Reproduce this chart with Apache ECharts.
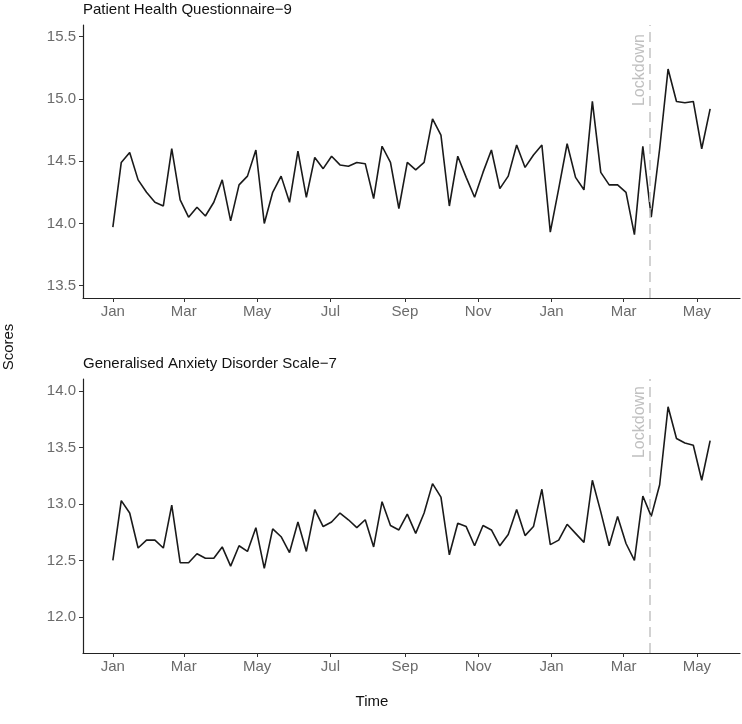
<!DOCTYPE html>
<html><head><meta charset="utf-8">
<script src="https://cdn.jsdelivr.net/npm/echarts@6/dist/echarts.min.js"></script>
<style>html,body{margin:0;padding:0;background:#fff}#c{width:742px;height:724px}</style>
</head><body><div id="c"></div>
<script>
const dates = [
 '2019-01-01','2019-01-08','2019-01-15','2019-01-22','2019-01-29','2019-02-05','2019-02-12','2019-02-19','2019-02-26',
 '2019-03-05','2019-03-12','2019-03-19','2019-03-26','2019-04-02','2019-04-09','2019-04-16','2019-04-23','2019-04-30',
 '2019-05-07','2019-05-14','2019-05-21','2019-05-28','2019-06-04','2019-06-11','2019-06-18','2019-06-25',
 '2019-07-02','2019-07-09','2019-07-16','2019-07-23','2019-07-30','2019-08-06','2019-08-13','2019-08-20','2019-08-27',
 '2019-09-03','2019-09-10','2019-09-17','2019-09-24','2019-10-01','2019-10-08','2019-10-15','2019-10-22','2019-10-29',
 '2019-11-05','2019-11-12','2019-11-19','2019-11-26','2019-12-03','2019-12-10','2019-12-17','2019-12-24','2019-12-31',
 '2020-01-07','2020-01-14','2020-01-21','2020-01-28','2020-02-04','2020-02-11','2020-02-18','2020-02-25',
 '2020-03-03','2020-03-10','2020-03-17','2020-03-24','2020-03-31','2020-04-07','2020-04-14','2020-04-21','2020-04-28',
 '2020-05-05','2020-05-12'
];
const phq9 = [
 13.97,14.49,14.57,14.35,14.25,14.17,14.14,14.60,14.19,14.05,14.13,14.06,14.17,14.35,14.02,14.31,14.38,14.59,
 14.00,14.25,14.38,14.17,14.58,14.21,14.53,14.44,14.54,14.47,14.46,14.49,14.48,14.20,14.62,14.49,14.12,14.49,
 14.43,14.49,14.84,14.71,14.14,14.54,14.37,14.21,14.41,14.59,14.28,14.38,14.63,14.45,14.55,14.63,13.93,14.28,
 14.64,14.37,14.27,14.98,14.41,14.31,14.31,14.25,13.91,14.62,14.05,14.60,15.24,14.98,14.97,14.98,14.60,14.92
];
const gad7 = [
 12.50,13.03,12.92,12.61,12.68,12.68,12.61,12.99,12.48,12.48,12.56,12.52,12.52,12.62,12.45,12.63,12.58,12.79,
 12.43,12.78,12.71,12.57,12.84,12.58,12.95,12.80,12.84,12.92,12.86,12.79,12.86,12.62,13.02,12.81,12.77,12.91,
 12.74,12.92,13.18,13.06,12.55,12.83,12.80,12.63,12.81,12.77,12.63,12.73,12.95,12.72,12.80,13.13,12.64,12.68,
 12.82,12.74,12.66,13.21,12.93,12.63,12.89,12.65,12.50,13.07,12.89,13.17,13.86,13.58,13.54,13.52,13.21,13.56
];
const monthTicks = ['2019-01-01','2019-03-01','2019-05-01','2019-07-01','2019-09-01','2019-11-01','2020-01-01','2020-03-01','2020-05-01'];
const monthLabels = ['Jan','Mar','May','Jul','Sep','Nov','Jan','Mar','May'];
const phqTicks = [13.5, 14.0, 14.5, 15.0, 15.5];
const gadTicks = [12.0, 12.5, 13.0, 13.5, 14.0];
const lockdownDate = '2020-03-23';
const lockdownLabel = 'Lockdown';
const titles = ['Patient Health Questionnaire\u22129', 'Generalised Anxiety Disorder Scale\u22127'];

function ts(s){ const p = s.split('-').map(Number); return Date.UTC(p[0], p[1]-1, p[2]); }
const t0 = ts(dates[0]), t1 = ts(dates[dates.length-1]), pad = (t1 - t0) * 0.05;
const tickTs = monthTicks.map(ts);
const FONT = "'Liberation Sans', Arial, Helvetica, sans-serif";
const tickColor = '#6b6b6b';

function xAxisCfg(gi){
  return {
    type: 'value', gridIndex: gi, min: t0 - pad, max: t1 + pad,
    axisLine: {show: true, lineStyle: {color: '#222', width: 1.2}},
    axisTick: {show: true, length: 4, lineStyle: {color: '#333', width: 1}, customValues: tickTs},
    axisLabel: {
      color: tickColor, fontSize: 15, fontFamily: FONT, margin: 6,
      customValues: tickTs, showMinLabel: true, showMaxLabel: true,
      formatter: function(v){ const i = tickTs.indexOf(v); return i >= 0 ? monthLabels[i] : ''; }
    },
    splitLine: {show: false}
  };
}
function yAxisCfg(gi, mn, mx, ticks){
  return {
    type: 'value', gridIndex: gi, min: mn, max: mx,
    axisLine: {show: true, lineStyle: {color: '#222', width: 1.2}},
    axisTick: {show: true, length: 4, lineStyle: {color: '#333', width: 1}, customValues: ticks},
    axisLabel: {color: tickColor, fontSize: 15, fontFamily: FONT, margin: 7, customValues: ticks,
      formatter: function(v){ return Number(v).toFixed(1); }},
    splitLine: {show: false}
  };
}
function lineSeries(gi, vals, topPad){
  return {
    type: 'line', xAxisIndex: gi, yAxisIndex: gi, showSymbol: false, symbol: 'none',
    data: dates.map(function(d, i){ return [ts(d), vals[i]]; }),
    lineStyle: {color: '#1a1a1a', width: 1.6}, silent: true, animation: false,
    markLine: {
      silent: true, symbol: ['none','none'], animation: false,
      lineStyle: {color: '#c4c4c4', type: [10, 6], width: 1.5},
      label: {show: true, formatter: lockdownLabel, position: 'insideEndTop', color: '#c0c0c0', fontSize: 16, fontFamily: FONT,
        distance: 2, padding: [0, topPad, 0, 0]},
      data: [{xAxis: ts(lockdownDate)}]
    }
  };
}

const chart = echarts.init(document.getElementById('c'), null, {renderer: 'canvas'});
chart.setOption({
  backgroundColor: '#fff',
  animation: false,
  title: [
    {text: titles[0], left: 78, top: -3, textStyle: {fontSize: 15, fontWeight: 'normal', color: '#111', fontFamily: FONT}},
    {text: titles[1], left: 78, top: 351, textStyle: {fontSize: 15, fontWeight: 'normal', color: '#111', fontFamily: FONT}}
  ],
  grid: [
    {left: 83, right: 2, top: 25, height: 273},
    {left: 83, right: 2, top: 379, height: 274}
  ],
  xAxis: [xAxisCfg(0), xAxisCfg(1)],
  yAxis: [yAxisCfg(0, 13.401, 15.594, phqTicks), yAxisCfg(1, 11.681, 14.106, gadTicks)],
  series: [lineSeries(0, phq9, 7), lineSeries(1, gad7, 5)],
  graphic: [
    {type: 'text', x: 9, y: 347, rotation: Math.PI/2, style: {text: 'Scores', fill: '#111', font: '15px ' + FONT, align: 'center', verticalAlign: 'middle'}},
    {type: 'text', x: 372, y: 702, style: {text: 'Time', fill: '#111', font: '15px ' + FONT, align: 'center', verticalAlign: 'middle'}}
  ]
});
</script></body></html>
